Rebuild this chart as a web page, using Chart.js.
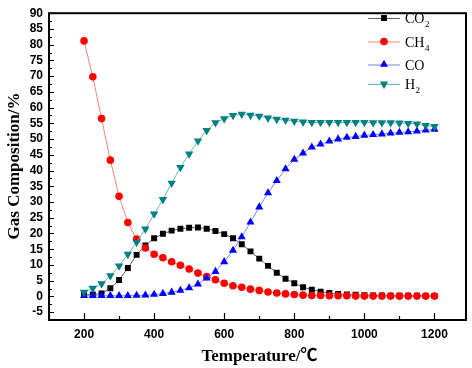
<!DOCTYPE html>
<html><head><meta charset="utf-8">
<script src="https://cdn.jsdelivr.net/npm/chart.js@4"></script>
<style>html,body{margin:0;padding:0;background:#fff}#wrap{width:472px;height:368px}</style>
</head><body><div id="wrap"><canvas id="c" width="472" height="368"></canvas></div>
<script>
const temperatures = [200,225,250,275,300,325,350,375,400,425,450,475,500,525,550,575,600,625,650,675,700,725,750,775,800,825,850,875,900,925,950,975,1000,1025,1050,1075,1100,1125,1150,1175,1200];
const co2 = [0.5,0.6,0.9,2.6,5.2,9.0,13.2,16.2,18.5,19.9,20.9,21.5,21.8,21.9,21.5,20.8,19.8,18.5,16.6,14.3,12.0,9.7,7.5,5.6,4.2,2.9,2.1,1.5,1.1,0.8,0.6,0.5,0.4,0.3,0.3,0.2,0.2,0.2,0.2,0.1,0.1];
const ch4 = [81.2,69.8,56.5,43.3,31.8,23.5,18.2,15.4,13.4,12.3,11.0,9.9,8.7,7.4,6.3,5.3,4.2,3.4,2.9,2.3,1.9,1.4,1.1,0.8,0.6,0.4,0.3,0.3,0.2,0.2,0.2,0.1,0.1,0.1,0.1,0.1,0.1,0.1,0.1,0.1,0.1];
const co = [0.2,0.2,0.2,0.2,0.2,0.2,0.3,0.4,0.6,0.9,1.3,1.9,2.7,3.9,5.8,7.9,11.0,14.6,18.9,23.6,28.4,32.9,36.8,40.5,43.5,45.5,47.4,48.4,49.3,50.0,50.5,50.8,51.2,51.4,51.6,51.9,52.1,52.3,52.5,52.8,53.1];
const h2 = [1.3,2.6,4.0,6.6,9.7,13.4,17.2,21.4,26.2,30.8,36.0,41.0,45.3,49.4,52.7,55.2,56.5,57.5,57.9,57.6,57.3,56.7,56.3,56.0,55.7,55.4,55.3,55.3,55.3,55.3,55.3,55.3,55.3,55.2,55.2,55.2,55.1,55.0,54.8,54.3,54.0];
const xTickValues = [200,400,600,800,1000,1200];
const xMinorValues = [100,300,500,700,900,1100];
const yTickValues = [-5,0,5,10,15,20,25,30,35,40,45,50,55,60,65,70,75,80,85,90];
const yMinorValues = [-7.5,-2.5,2.5,7.5,12.5,17.5,22.5,27.5,32.5,37.5,42.5,47.5,52.5,57.5,62.5,67.5,72.5,77.5,82.5,87.5];
const xTitle = 'Temperature/\u2103';
const yTitle = 'Gas Composition/%';
const seriesNames = ['CO2','CH4','CO','H2'];

function pts(arr){ return temperatures.map((t,i)=>({x:t,y:arr[i]})); }

const datasets = [
  {label:seriesNames[0], data:pts(co2), borderColor:'#606060', pointBackgroundColor:'#000', pointBorderColor:'#000', pointStyle:'rect', pointRadius:4.2, order:4},
  {label:seriesNames[1], data:pts(ch4), borderColor:'#ff8080', pointBackgroundColor:'#ff0000', pointBorderColor:'#ff0000', pointStyle:'circle', pointRadius:3.8, order:3},
  {label:seriesNames[2], data:pts(co), borderColor:'#8080ff', pointBackgroundColor:'#0000ff', pointBorderColor:'#0000ff', pointStyle:'triangle', pointRadius:4.7, order:2},
  {label:seriesNames[3], data:pts(h2), borderColor:'#70b8b8', pointBackgroundColor:'#008080', pointBorderColor:'#008080', pointStyle:'triangle', pointRotation:180, pointRadius:4.9, order:1}
];
datasets.forEach(d=>{ d.borderWidth=1; d.pointBorderWidth=0; d.tension=0; d.fill=false; });

const decor = {
  id:'decor',
  afterDraw(chart){
    const ctx = chart.ctx, a = chart.chartArea, xs = chart.scales.x, ys = chart.scales.y;
    ctx.save();
    ctx.strokeStyle = '#000';
    ctx.lineWidth = 1.2;
    ctx.beginPath();
    xTickValues.forEach(v=>{ const p = Math.round(xs.getPixelForValue(v))+0.5; ctx.moveTo(p,a.bottom); ctx.lineTo(p,a.bottom-7); });
    xMinorValues.forEach(v=>{ const p = Math.round(xs.getPixelForValue(v))+0.5; ctx.moveTo(p,a.bottom); ctx.lineTo(p,a.bottom-4); });
    yTickValues.forEach(v=>{ const p = Math.round(ys.getPixelForValue(v))+0.5; ctx.moveTo(a.left,p); ctx.lineTo(a.left+5,p); });
    yMinorValues.forEach(v=>{ const p = Math.round(ys.getPixelForValue(v))+0.5; ctx.moveTo(a.left,p); ctx.lineTo(a.left+3,p); });
    ctx.stroke();
    ctx.lineWidth = 2;
    ctx.strokeRect(a.left, a.top, a.right-a.left, a.bottom-a.top);

    // axis titles
    ctx.fillStyle = '#000';
    ctx.textAlign = 'center'; ctx.textBaseline = 'middle';
    ctx.font = 'bold 17px "Liberation Serif", "Noto Sans CJK SC", serif';
    ctx.fillText(xTitle, (a.left+a.right)/2+2, 357);
    ctx.save();
    ctx.translate(15, 166);
    ctx.rotate(-Math.PI/2);
    ctx.fillText(yTitle, 0, 0);
    ctx.restore();

    // legend
    const rows = [18, 41.5, 64.5, 84];
    chart.data.datasets.forEach((d,i)=>{
      const y = rows[i];
      ctx.strokeStyle = d.borderColor; ctx.lineWidth = 1;
      ctx.beginPath(); ctx.moveTo(368,y+0.5); ctx.lineTo(400,y+0.5); ctx.stroke();
      ctx.fillStyle = d.pointBackgroundColor; ctx.strokeStyle = d.pointBorderColor;
      Chart.helpers.drawPoint(ctx, {pointStyle:d.pointStyle, radius:d.pointRadius, rotation:d.pointRotation||0, borderWidth:0}, 384, y);
      const m = d.label.match(/^([A-Za-z]+)(\d*)$/);
      ctx.fillStyle = '#000'; ctx.textAlign='left'; ctx.textBaseline='alphabetic';
      ctx.font = '14px "Liberation Serif", serif';
      ctx.fillText(m[1], 405, y+5);
      const w = ctx.measureText(m[1]).width;
      if (m[2]) { ctx.font = '9px "Liberation Serif", serif'; ctx.fillText(m[2], 405+w+0.5, y+9); }
    });
    ctx.restore();
  }
};

new Chart(document.getElementById('c'), {
  type:'line',
  data:{datasets},
  options:{
    responsive:false, animation:false, devicePixelRatio:1,
    layout:{padding:{left:0,right:6,top:5,bottom:0}},
    plugins:{legend:{display:false}, tooltip:{enabled:false}},
    scales:{
      x:{type:'linear', min:100, max:1290,
        afterBuildTicks:s=>{ s.ticks = xTickValues.map(v=>({value:v})); },
        afterFit:s=>{ s.height = 48; },
        grid:{display:false, drawTicks:false}, border:{display:false},
        ticks:{color:'#000', padding:7, maxRotation:0, autoSkip:false, callback:v=>String(v), font:{family:'"Liberation Sans", Arial, sans-serif', weight:'bold', size:12}}},
      y:{type:'linear', min:-7.5, max:90,
        afterBuildTicks:s=>{ s.ticks = yTickValues.map(v=>({value:v})); },
        afterFit:s=>{ s.width = 49; },
        grid:{display:false, drawTicks:false}, border:{display:false},
        ticks:{color:'#000', padding:6, autoSkip:false, callback:v=>String(v), font:{family:'"Liberation Sans", Arial, sans-serif', weight:'bold', size:12}}}
    }
  },
  plugins:[decor]
});
</script></body></html>
